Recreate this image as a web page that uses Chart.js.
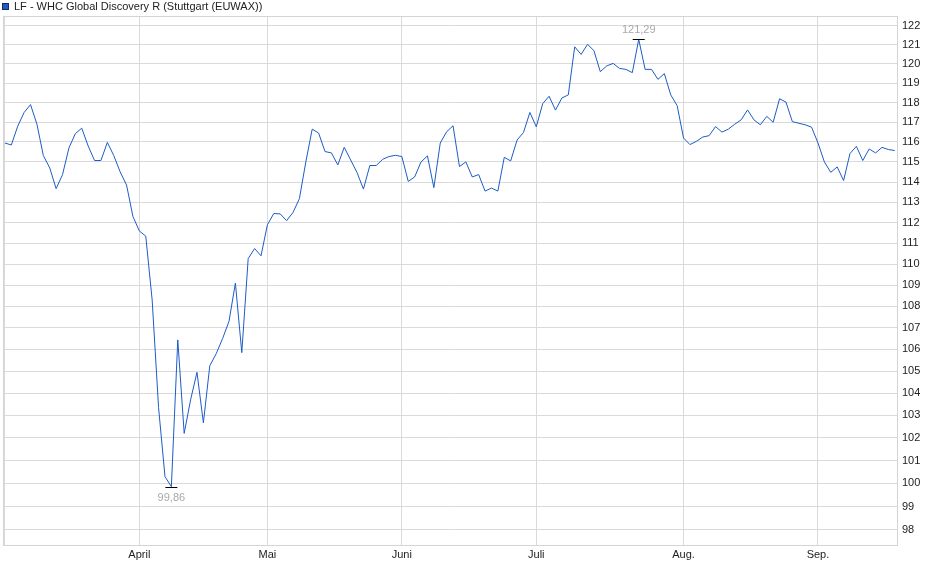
<!DOCTYPE html>
<html>
<head>
<meta charset="utf-8">
<script src="https://cdn.jsdelivr.net/npm/chart.js@4/dist/chart.umd.min.js"></script>
<style>
  html, body { margin: 0; padding: 0; background: #fff; }
  canvas { display: block; }
</style>
</head>
<body>
<canvas id="myChart" width="940" height="579"></canvas>
<script>
// daily closing prices, one per trading day
const prices = [
  115.95, 115.85, 116.8, 117.5, 117.9, 116.9, 115.32, 114.7, 113.67, 114.37,
  115.7, 116.42, 116.7, 115.8, 115.07, 115.07, 115.98, 115.32, 114.5, 113.85,
  112.3, 111.6, 111.35, 108.3, 103.35, 100.3, 99.86, 106.44, 102.2, 103.7,
  104.95, 102.67, 105.25, 105.8, 106.5, 107.3, 109.1, 105.85, 110.27, 110.75,
  110.4, 111.9, 112.45, 112.43, 112.1, 112.5, 113.18, 115.0, 116.65, 116.45,
  115.52, 115.45, 114.85, 115.73, 115.1, 114.47, 113.65, 114.82, 114.82, 115.13,
  115.27, 115.33, 115.27, 114.03, 114.25, 115.0, 115.3, 113.72, 115.95, 116.52,
  116.82, 114.77, 115.0, 114.25, 114.37, 113.55, 113.7, 113.55, 115.23, 115.05,
  116.1, 116.48, 117.5, 116.77, 117.95, 118.33, 117.62, 118.24, 118.4, 120.9,
  120.5, 121.03, 120.7, 119.6, 119.9, 120.03, 119.77, 119.72, 119.55, 121.29,
  119.72, 119.72, 119.2, 119.5, 118.4, 117.85, 116.2, 115.87, 116.03, 116.25,
  116.32, 116.78, 116.5, 116.65, 116.9, 117.12, 117.63, 117.12, 116.87, 117.3,
  117.0, 118.2, 118.03, 117.03, 116.95, 116.87, 116.75, 115.95, 115.0, 114.48,
  114.75, 114.07, 115.42, 115.78, 115.07, 115.65, 115.45, 115.73, 115.62, 115.57
];

// first trading day of each month (index into prices)
const monthNames = ["April", "Mai", "Juni", "Juli", "Aug.", "Sep."];
const monthStart = [21, 41, 62, 83, 106, 127];

const yTicks = [98, 99, 100, 101, 102, 103, 104, 105, 106, 107, 108, 109, 110,
  111, 112, 113, 114, 115, 116, 117, 118, 119, 120, 121, 122];

const title = "LF - WHC Global Discovery R (Stuttgart (EUWAX))";
const lineColor = "#1c5cc6";
const gridColor = "#dadada";

const fmt = (v) => v.toFixed(2).replace(".", ",");

// frame, title box and min/max markers
const extras = {
  id: "extras",
  afterDraw(chart) {
    const ctx = chart.ctx;
    const a = chart.chartArea;
    const xs = chart.scales.x;
    const ys = chart.scales.y;
    ctx.save();
    ctx.strokeStyle = "#d4d4d4";
    ctx.lineWidth = 1;
    ctx.strokeRect(Math.round(a.left) + 0.5, Math.round(a.top) + 0.5,
      Math.round(a.right - a.left) - 1, Math.round(a.bottom - a.top));

    // legend/title
    ctx.fillStyle = lineColor;
    ctx.fillRect(2, 3, 7, 7);
    ctx.strokeStyle = "#1a2a5a";
    ctx.strokeRect(2.5, 3.5, 6, 6);
    ctx.fillStyle = "#222";
    ctx.font = "11px 'Liberation Sans', Arial, sans-serif";
    ctx.textBaseline = "middle";
    ctx.textAlign = "left";
    ctx.fillText(title, 14, 7);

    // min / max
    let iMin = 0, iMax = 0;
    prices.forEach((v, i) => {
      if (v < prices[iMin]) iMin = i;
      if (v > prices[iMax]) iMax = i;
    });
    ctx.font = "11px 'Liberation Sans', Arial, sans-serif";
    ctx.textAlign = "center";
    [[iMin, 1], [iMax, -1]].forEach(([i, dir]) => {
      const px = xs.getPixelForValue(i);
      const py = Math.round(ys.getPixelForValue(prices[i])) + 0.5;
      ctx.strokeStyle = "#000";
      ctx.beginPath();
      ctx.moveTo(px - 6, py);
      ctx.lineTo(px + 6, py);
      ctx.stroke();
      ctx.fillStyle = "#a8a8a8";
      ctx.fillText(fmt(prices[i]), px, py + dir * 10);
    });
    ctx.restore();
  }
};

const config = {
  type: "line",
  data: {
    datasets: [
      {
        data: prices.map((v, i) => ({ x: i, y: v })),
        borderColor: lineColor,
        borderWidth: 1,
        pointRadius: 0,
        tension: 0,
        fill: false,
      },
    ],
  },
  options: {
    responsive: false,
    animation: false,
    devicePixelRatio: 1,
    layout: { padding: { top: 16, left: 3, right: 0, bottom: 0 } },
    plugins: { legend: { display: false }, tooltip: { enabled: false } },
    scales: {
      x: {
        type: "linear",
        min: -0.3,
        max: 139.5,
        afterBuildTicks(scale) {
          scale.ticks = [{ value: 0 }].concat(monthStart.map((v) => ({ value: v })));
        },
        afterFit(scale) { scale.height = 34; },
        ticks: {
          autoSkip: false,
          maxRotation: 0,
          padding: 3,
          color: "#222",
          font: { family: "'Liberation Sans', Arial, sans-serif", size: 11 },
          callback(v) {
            const k = monthStart.indexOf(v);
            return k < 0 ? "" : monthNames[k];
          },
        },
        grid: { color: gridColor, drawTicks: false },
        border: { display: false },
      },
      y: {
        type: "logarithmic",
        position: "right",
        min: 97.36,
        max: 122.53,
        afterBuildTicks(scale) {
          scale.ticks = yTicks.map((v) => ({ value: v }));
        },
        afterFit(scale) { scale.width = 42; },
        ticks: {
          padding: 4,
          color: "#222",
          font: { family: "'Liberation Sans', Arial, sans-serif", size: 11 },
          callback: (v) => String(v),
        },
        grid: { color: gridColor, drawTicks: false },
        border: { display: false },
      },
    },
  },
  plugins: [extras],
};

const myChart = new Chart(document.getElementById("myChart"), config);
</script>
</body>
</html>
